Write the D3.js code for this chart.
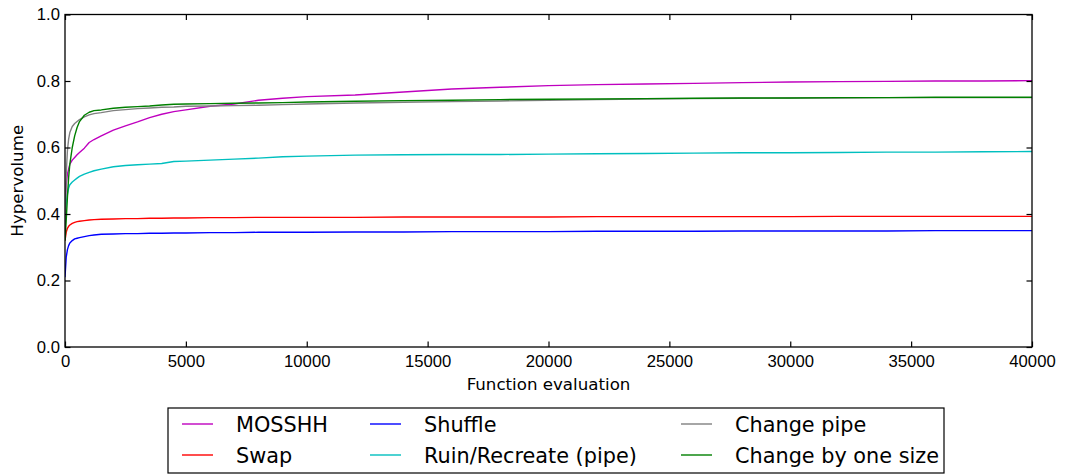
<!DOCTYPE html>
<html>
<head>
<meta charset="utf-8">
<script src="https://cdn.jsdelivr.net/npm/d3@7"></script>
<style>
    body { margin: 0; background: #fff; }
    svg { font-family: "DejaVu Sans", sans-serif; }
    .tick-label { font-size: 16.67px; fill: #000; }
</style>
</head>
<body>
<div class="chart-container"></div>
<script>
// Chart params
const width = 1066;
const height = 475;
const margin = { left: 65, right: 34, top: 14.5, bottom: 128 };

const evals = [0, 50, 100, 150, 200, 300, 400, 500, 600, 800, 1000, 1200, 1500, 2000, 2500,
    3000, 3500, 4000, 4500, 5000, 6000, 7000, 8000, 9000, 10000, 12000, 14000, 16000, 18000,
    20000, 22000, 24000, 26000, 28000, 30000, 32000, 34000, 36000, 38000, 40000];

// Hypervolume per series
const mosshh = [0.42, 0.49, 0.52, 0.535, 0.55, 0.562, 0.57, 0.578, 0.585, 0.598, 0.615, 0.624, 0.635, 0.652, 0.665,
    0.677, 0.69, 0.700, 0.708, 0.713, 0.724, 0.731, 0.742, 0.748, 0.753, 0.758, 0.767, 0.776, 0.781,
    0.786, 0.789, 0.791, 0.793, 0.795, 0.797, 0.798, 0.799, 0.800, 0.800, 0.801];
const swap = [0.32, 0.345, 0.357, 0.363, 0.367, 0.372, 0.375, 0.377, 0.378, 0.380, 0.382, 0.383, 0.384, 0.385, 0.386,
    0.386, 0.387, 0.387, 0.388, 0.388, 0.389, 0.389, 0.390, 0.390, 0.390, 0.390, 0.391, 0.391, 0.391,
    0.391, 0.392, 0.392, 0.392, 0.392, 0.392, 0.393, 0.393, 0.393, 0.393, 0.393];
const shuffle = [0.21, 0.27, 0.293, 0.305, 0.313, 0.320, 0.325, 0.327, 0.329, 0.332, 0.335, 0.337, 0.339, 0.340, 0.341,
    0.341, 0.342, 0.342, 0.343, 0.343, 0.344, 0.344, 0.345, 0.345, 0.345, 0.346, 0.346, 0.347, 0.347,
    0.347, 0.348, 0.348, 0.348, 0.349, 0.349, 0.349, 0.349, 0.350, 0.350, 0.350];
const ruinRecreate = [0.36, 0.43, 0.46, 0.478, 0.488, 0.496, 0.502, 0.508, 0.513, 0.520, 0.525, 0.530, 0.535, 0.542, 0.546,
    0.548, 0.550, 0.552, 0.558, 0.559, 0.562, 0.565, 0.568, 0.572, 0.574, 0.577, 0.578, 0.579, 0.579,
    0.580, 0.581, 0.582, 0.583, 0.584, 0.584, 0.585, 0.586, 0.586, 0.587, 0.588];
const changePipe = [0.35, 0.52, 0.59, 0.625, 0.645, 0.663, 0.672, 0.678, 0.684, 0.692, 0.698, 0.702, 0.705, 0.711, 0.714,
    0.717, 0.719, 0.721, 0.722, 0.724, 0.725, 0.726, 0.727, 0.729, 0.731, 0.734, 0.736, 0.738, 0.740,
    0.742, 0.744, 0.746, 0.747, 0.748, 0.749, 0.749, 0.750, 0.750, 0.750, 0.750];
const changeOneSize = [0.32, 0.38, 0.45, 0.51, 0.55, 0.60, 0.635, 0.66, 0.678, 0.697, 0.706, 0.711, 0.713, 0.718, 0.721,
    0.723, 0.725, 0.728, 0.730, 0.731, 0.732, 0.733, 0.734, 0.735, 0.737, 0.739, 0.741, 0.742, 0.744,
    0.745, 0.746, 0.747, 0.748, 0.749, 0.749, 0.750, 0.750, 0.751, 0.751, 0.751];

const seriesNames = ['MOSSHH', 'Swap', 'Shuffle', 'Ruin/Recreate (pipe)', 'Change pipe', 'Change by one size'];
const seriesValues = [mosshh, swap, shuffle, ruinRecreate, changePipe, changeOneSize];
const seriesColors = ['#bf00bf', '#ff0000', '#0000ff', '#00bfbf', '#808080', '#008000'];

const xTicks = [0, 5000, 10000, 15000, 20000, 25000, 30000, 35000, 40000];
const yTicks = [0.0, 0.2, 0.4, 0.6, 0.8, 1.0];

// Draw the chart
function drawChart() {

    const svg = d3.select('.chart-container')
        .append('svg')
        .attr('width', width)
        .attr('height', height);

    const x = d3.scaleLinear()
        .domain([0, 40000])
        .range([margin.left, width - margin.right]);

    const y = d3.scaleLinear()
        .domain([0, 1])
        .range([height - margin.bottom, margin.top]);

    // Clip lines to plot area
    svg.append('clipPath')
        .attr('id', 'plot-clip')
        .append('rect')
        .attr('x', x(0))
        .attr('y', y(1))
        .attr('width', x(40000) - x(0))
        .attr('height', y(0) - y(1));

    const line = d3.line()
        .x((d, i) => x(evals[i]))
        .y(d => y(d));

    const g = svg.append('g').attr('clip-path', 'url(#plot-clip)');

    g.selectAll('.series')
        .data(seriesValues)
        .enter()
        .append('path')
        .attr('class', 'series')
        .attr('fill', 'none')
        .attr('stroke', (d, i) => seriesColors[i])
        .attr('stroke-width', 1.4)
        .attr('stroke-linejoin', 'round')
        .attr('d', line);

    // Axes, ticks point inwards
    const tickLen = 5.5;

    const xAxis = svg.append('g')
        .attr('transform', `translate(0,${y(0)})`)
        .call(d3.axisBottom(x).tickValues(xTicks).tickSize(-tickLen).tickPadding(8).tickFormat(d3.format('d')));

    const yAxis = svg.append('g')
        .attr('transform', `translate(${x(0)},0)`)
        .call(d3.axisLeft(y).tickValues(yTicks).tickSize(-tickLen).tickPadding(5).tickFormat(d3.format('.1f')));

    const topAxis = svg.append('g')
        .attr('transform', `translate(0,${y(1)})`)
        .call(d3.axisTop(x).tickValues(xTicks).tickSize(-tickLen).tickFormat(''));

    const rightAxis = svg.append('g')
        .attr('transform', `translate(${x(40000)},0)`)
        .call(d3.axisRight(y).tickValues(yTicks).tickSize(-tickLen).tickFormat(''));

    [xAxis, yAxis, topAxis, rightAxis].forEach(a => {
        a.select('.domain').remove();
        a.selectAll('.tick line').attr('stroke', '#000').attr('stroke-width', 1.2);
        a.selectAll('.tick text')
            .attr('class', 'tick-label')
            .attr('font-family', null)
            .attr('font-size', null);
    });

    // Frame
    svg.append('rect')
        .attr('x', x(0))
        .attr('y', y(1))
        .attr('width', x(40000) - x(0))
        .attr('height', y(0) - y(1))
        .attr('fill', 'none')
        .attr('stroke', '#000')
        .attr('stroke-width', 1.3);

    // Axis labels
    svg.append('text')
        .attr('x', (x(0) + x(40000)) / 2)
        .attr('y', 390)
        .attr('text-anchor', 'middle')
        .attr('font-size', '16.67px')
        .text('Function evaluation');

    svg.append('text')
        .attr('transform', `translate(23,${(y(0) + y(1)) / 2}) rotate(-90)`)
        .attr('text-anchor', 'middle')
        .attr('font-size', '16.67px')
        .text('Hypervolume');

    drawLegend(svg);
}

// Legend below the plot, three columns
function drawLegend(svg) {

    const colLine = [182, 370, 681];
    const colText = [236, 424, 735];
    const rowY = [424, 455];

    svg.append('rect')
        .attr('x', 168)
        .attr('y', 408)
        .attr('width', 776)
        .attr('height', 65)
        .attr('fill', '#fff')
        .attr('stroke', '#000')
        .attr('stroke-width', 1.2);

    const item = svg.selectAll('.legend-item')
        .data(seriesNames)
        .enter()
        .append('g')
        .attr('class', 'legend-item');

    item.append('line')
        .attr('x1', (d, i) => colLine[Math.floor(i / 2)])
        .attr('x2', (d, i) => colLine[Math.floor(i / 2)] + 31)
        .attr('y1', (d, i) => rowY[i % 2])
        .attr('y2', (d, i) => rowY[i % 2])
        .attr('stroke', (d, i) => seriesColors[i])
        .attr('stroke-width', 1.4);

    item.append('text')
        .attr('x', (d, i) => colText[Math.floor(i / 2)])
        .attr('y', (d, i) => rowY[i % 2] + 7.6)
        .attr('font-size', '20.8px')
        .text(d => d);
}

window.onload = function () {
    drawChart();
};
</script>
</body>
</html>
